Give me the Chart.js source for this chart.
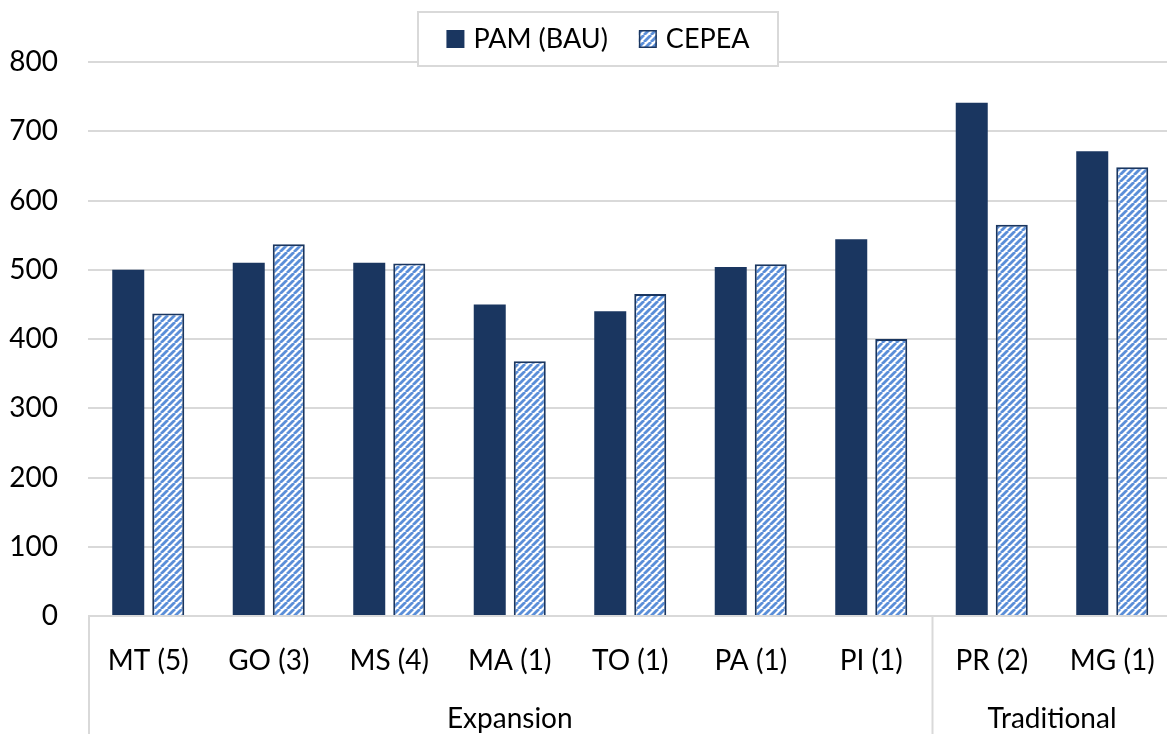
<!DOCTYPE html>
<html>
<head>
<meta charset="utf-8">
<script src="https://cdn.jsdelivr.net/npm/chart.js@4.4.1/dist/chart.umd.min.js"></script>
<style>
  html, body { margin: 0; padding: 0; background: #fff; overflow: hidden; }
  #wrap { width: 1180px; height: 734px; }
</style>
</head>
<body>
<div id="wrap"><canvas id="chart" width="1180" height="734"></canvas></div>
<script>
// data
const categories = ['MT (5)', 'GO (3)', 'MS (4)', 'MA (1)', 'TO (1)', 'PA (1)', 'PI (1)', 'PR (2)', 'MG (1)'];
const groupNames = ['Expansion', 'Traditional'];
const groupSizes = [7, 2];
const pamValues = [500, 510, 510, 450, 440, 504, 544, 741, 671];
const cepeaValues = [437, 537, 509, 368, 465, 508, 400, 565, 648];
const yTicks = [0, 100, 200, 300, 400, 500, 600, 700, 800];

const C = {
  navy:  '#1a3660',
  blue:  '#5a8ed8',
  grid:  '#d9d9d9',
  text:  '#000000',
};
const FONT = 'Lato, "Open Sans", sans-serif';

// upward diagonal stripe fill
function stripes() {
  const n = 7;
  const t = document.createElement('canvas');
  t.width = n; t.height = n;
  const g = t.getContext('2d');
  g.fillStyle = '#fff';
  g.fillRect(0, 0, n, n);
  g.strokeStyle = C.blue;
  g.lineWidth = 2.8;
  for (const o of [-n, 0, n]) {
    g.beginPath();
    g.moveTo(o, n);
    g.lineTo(o + n, 0);
    g.stroke();
  }
  return g.createPattern(t, 'repeat');
}

// ── legend box + group labels under the axis ──────
const extras = {
  id: 'extras',
  afterDraw(chart) {
    const { ctx, chartArea, scales } = chart;
    const x = scales.x;
    const h = chart.height;
    const step = x.getPixelForValue(1) - x.getPixelForValue(0);
    ctx.save();

    // category group separators + labels
    ctx.strokeStyle = C.grid;
    ctx.lineWidth = 2;
    let start = 0;
    ctx.font = '28px ' + FONT;
    ctx.fillStyle = C.text;
    ctx.textAlign = 'center';
    ctx.textBaseline = 'alphabetic';
    groupNames.forEach((name, i) => {
      const left = x.getPixelForValue(start) - step / 2;
      const right = x.getPixelForValue(start + groupSizes[i] - 1) + step / 2;
      ctx.beginPath();
      ctx.moveTo(left + 1, chartArea.bottom);
      ctx.lineTo(left + 1, h);
      ctx.stroke();
      ctx.fillText(name, (left + right) / 2, 728);
      start += groupSizes[i];
    });

    // legend
    const ds = chart.data.datasets;
    ctx.font = '27px ' + FONT;
    const sq = 18, gap = 9, between = 31;
    const widths = ds.map(d => sq + gap + ctx.measureText(d.label).width);
    const total = widths.reduce((a, b) => a + b, 0) + between * (ds.length - 1);
    const cx = 598, cy = 39;
    ctx.fillStyle = '#fff';
    ctx.fillRect(418, 12, 360, 54);
    ctx.strokeStyle = C.grid;
    ctx.lineWidth = 2;
    ctx.strokeRect(418, 12, 360, 54);
    let lx = cx - total / 2;
    ds.forEach((d, i) => {
      ctx.fillStyle = d.backgroundColor;
      ctx.fillRect(lx, cy - sq / 2, sq, sq);
      if (d.borderWidth) {
        ctx.strokeStyle = d.borderColor;
        ctx.lineWidth = 1.5;
        ctx.strokeRect(lx + 0.75, cy - sq / 2 + 0.75, sq - 1.5, sq - 1.5);
      }
      ctx.fillStyle = C.text;
      ctx.textAlign = 'left';
      ctx.textBaseline = 'alphabetic';
      ctx.fillText(d.label, lx + sq + gap, cy + 9);
      lx += widths[i] + between;
    });
    ctx.restore();
  },
};

new Chart(document.getElementById('chart'), {
  type: 'bar',
  data: {
    labels: categories,
    datasets: [
      { label: 'PAM (BAU)', data: pamValues, backgroundColor: C.navy, borderWidth: 0,
        categoryPercentage: 0.664, barPercentage: 0.8 },
      { label: 'CEPEA', data: cepeaValues, backgroundColor: stripes(), borderColor: C.navy, borderWidth: 2,
        categoryPercentage: 0.664, barPercentage: 0.8 },
    ],
  },
  options: {
    responsive: false,
    animation: false,
    layout: { padding: { top: 62, right: 7.5, bottom: 0, left: 0 } },
    plugins: {
      legend: { display: false },
      tooltip: { enabled: false },
    },
    scales: {
      x: {
        grid: { display: false },
        border: { display: false },
        ticks: { color: C.text, font: { family: FONT, size: 28 }, padding: 20, maxRotation: 0, autoSkip: false },
        afterFit: s => { s.height = 118; },
      },
      y: {
        min: 0,
        max: 800,
        afterBuildTicks: s => { s.ticks = yTicks.map(v => ({ value: v })); },
        grid: { color: C.grid, lineWidth: 2, drawTicks: false },
        border: { display: false },
        ticks: { color: C.text, font: { family: FONT, size: 28 }, padding: 30 },
        afterFit: s => { s.width = 88; },
      },
    },
  },
  plugins: [extras],
});
</script>
</body>
</html>
